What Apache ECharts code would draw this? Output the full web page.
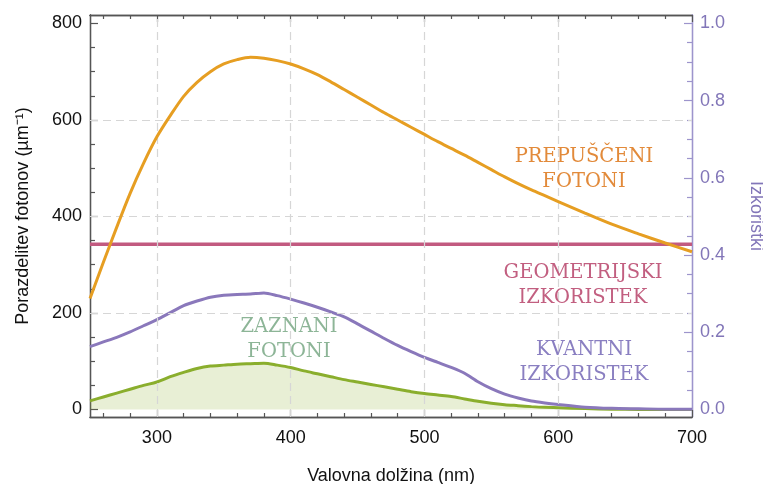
<!DOCTYPE html>
<html><head><meta charset="utf-8">
<script src="https://cdn.jsdelivr.net/npm/echarts@6/dist/echarts.min.js"></script>
<style>html,body{margin:0;padding:0;background:#fff}#c{width:763px;height:484px}</style>
</head><body><div id="c"></div>
<script>
// ---- data ----
const wavelengths = [250,260,270,280,290,300,310,320,330,340,350,360,370,380,390,400,410,420,430,440,450,460,470,480,490,500,510,520,530,540,550,560,570,580,590,600,620,640,660,680,700];
const transmittedPhotons = [230,305,378,448,510,565,609,649,678,700,716,725,730,728,723,716,706,694,679,663,647,631,615,600,585,570,555,541,527,512,497,482,468,455,443,431,407,384,364,345,327];
const quantumEfficiency = [0.163,0.175,0.187,0.201,0.217,0.233,0.251,0.269,0.281,0.291,0.296,0.298,0.299,0.302,0.295,0.286,0.276,0.265,0.253,0.240,0.222,0.203,0.184,0.166,0.150,0.135,0.122,0.109,0.094,0.072,0.054,0.040,0.030,0.022,0.017,0.013,0.006,0.003,0.002,0.001,0.001];
const detectedPhotons = [18,26,34,42,50,57,68,77,85,90,92,94,95,96,92,87,80,74,68,62,57,52,47,42,37,33,30,27,22,17,13,10,8,6,4.5,3.7,2,0.8,0.3,0.1,0];
const geometricX = [250,700];
const geometricEfficiency = [0.428,0.428];

const xMajorTicks = [300,400,500,600,700];
const xMinorTicks = [260,280,320,340,360,380,420,440,460,480,520,540,560,580,620,640,660,680];
const yLeftMajorTicks = [0,200,400,600,800];
const yLeftMinorTicks = [50,100,150,250,300,350,450,500,550,650,700,750];
const yRightMajorTicks = [0,0.2,0.4,0.6,0.8,1.0];
const yRightMinorTicks = [0.05,0.1,0.15,0.25,0.3,0.35,0.45,0.5,0.55,0.65,0.7,0.75,0.85,0.9,0.95];
const xGridValues = [300,400,500,600];
const yGridValues = [200,400,600];

const annotations = [
  {lines:['PREPUŠČENI','FOTONI'], color:'#e28a3a', x:584, y:157},
  {lines:['GEOMETRIJSKI','IZKORISTEK'], color:'#c25f80', x:583, y:273},
  {lines:['ZAZNANI','FOTONI'], color:'#8db597', x:289, y:327},
  {lines:['KVANTNI','IZKORISTEK'], color:'#8a7fc1', x:584, y:350}
];

// ---- chart ----
const X_MIN = 250, X_MAX = 700, YL_MIN = -15.5, YL_MAX = 817.5, YR_SCALE = 800;
const axisDark = '#555555', purpleAxis = '#9d94cc', purpleText = '#8276b8';
const font = 'Liberation Sans, Arial, sans-serif';

function xAxis(pos, ticks, len, labels) {
  return {
    type:'value', position:pos, min:X_MIN, max:X_MAX,
    axisLine:{show:true, onZero:false, lineStyle:{color:axisDark, width:1.3}},
    axisTick:{show:true, inside:true, length:len, customValues:ticks, lineStyle:{color:axisDark, width:1.2}},
    axisLabel:{show:!!labels, customValues:labels||[], color:'#111', fontFamily:font, fontSize:18, margin:12},
    splitLine:{show:false}, minorTick:{show:false}
  };
}
function yAxis(pos, min, max, ticks, len, labels, color, labelColor, fmt) {
  return {
    type:'value', position:pos, min:min, max:max,
    axisLine:{show:true, onZero:false, lineStyle:{color:color, width:1.3}},
    axisTick:{show:true, inside:true, length:len, customValues:ticks, lineStyle:{color:color, width:1.2}},
    axisLabel:{show:!!labels, customValues:labels||[], color:labelColor, fontFamily:font, fontSize:18, margin:8, formatter:fmt},
    splitLine:{show:false}, minorTick:{show:false}
  };
}

const xAxes = [
  Object.assign(xAxis('bottom', xMajorTicks, 7, xMajorTicks), {name:'Valovna dolžina (nm)', nameLocation:'middle', nameGap:50, nameTextStyle:{color:'#111', fontFamily:font, fontSize:18}}),
  xAxis('bottom', xMinorTicks, 4, null),
  xAxis('top', xMajorTicks, 7, null),
  xAxis('top', xMinorTicks, 4, null)
];
const yAxes = [
  Object.assign(yAxis('left', YL_MIN, YL_MAX, yLeftMajorTicks, 8, yLeftMajorTicks, axisDark, '#111', v => String(v)),
    {name:'Porazdelitev fotonov (µm⁻¹)', nameLocation:'middle', nameGap:58, nameRotate:90, nameTextStyle:{color:'#111', fontFamily:font, fontSize:18}}),
  yAxis('left', YL_MIN, YL_MAX, yLeftMinorTicks, 5, null, axisDark, '#111'),
  Object.assign(yAxis('right', YL_MIN/YR_SCALE, YL_MAX/YR_SCALE, yRightMajorTicks, 8, yRightMajorTicks, purpleAxis, purpleText, v => v.toFixed(1)),
    {name:'Izkoristki', nameLocation:'middle', nameGap:55, nameRotate:-90, nameTextStyle:{color:purpleText, fontFamily:font, fontSize:18}}),
  yAxis('right', YL_MIN/YR_SCALE, YL_MAX/YR_SCALE, yRightMinorTicks, 5, null, purpleAxis, purpleText)
];

const zip = (xs, ys) => xs.map((x, i) => [x, ys[i]]);
const gridLineStyle = {color:'#d6d6d6', type:[8,5], width:1.2};

const graphics = [];
annotations.forEach(a => {
  a.lines.forEach((t, i) => {
    graphics.push({type:'text', silent:true, z:50, style:{text:t, x:a.x, y:a.y + i*25, align:'center', verticalAlign:'middle',
      font:'19.5px "DejaVu Serif", "Liberation Serif", serif', fill:a.color}});
  });
});

const chart = echarts.init(document.getElementById('c'), null, {renderer:'canvas'});
chart.setOption({
  animation:false,
  backgroundColor:'#ffffff',
  grid:{left:90, right:71, top:15, bottom:67, containLabel:false, outerBoundsMode:'none'},
  xAxis:xAxes,
  yAxis:yAxes,
  series:[
    {type:'line', name:'grid', xAxisIndex:0, yAxisIndex:0, data:[], z:1, silent:true,
     markLine:{silent:true, symbol:['none','none'], label:{show:false}, lineStyle:gridLineStyle, animation:false,
       data: xGridValues.map(v => ({xAxis:v})).concat(yGridValues.map(v => ({yAxis:v})))}},
    {type:'line', name:'Zaznani fotoni', xAxisIndex:0, yAxisIndex:0, data:zip(wavelengths, detectedPhotons), smooth:0.3,
     showSymbol:false, z:3, lineStyle:{color:'#8aae2d', width:3}, areaStyle:{color:'#8aae2d', opacity:0.2}},
    {type:'line', name:'Kvantni izkoristek', xAxisIndex:0, yAxisIndex:2, data:zip(wavelengths, quantumEfficiency), smooth:0.25,
     showSymbol:false, z:4, lineStyle:{color:'#8a78bb', width:3}},
    {type:'line', name:'Geometrijski izkoristek', xAxisIndex:0, yAxisIndex:2, data:zip(geometricX, geometricEfficiency),
     showSymbol:false, z:4, lineStyle:{color:'#c25a80', width:3.5}},
    {type:'line', name:'Prepuščeni fotoni', xAxisIndex:0, yAxisIndex:0, data:zip(wavelengths, transmittedPhotons), smooth:0.3,
     showSymbol:false, z:5, lineStyle:{color:'#e69e22', width:3}}
  ],
  graphic:graphics
});
</script>
</body></html>
